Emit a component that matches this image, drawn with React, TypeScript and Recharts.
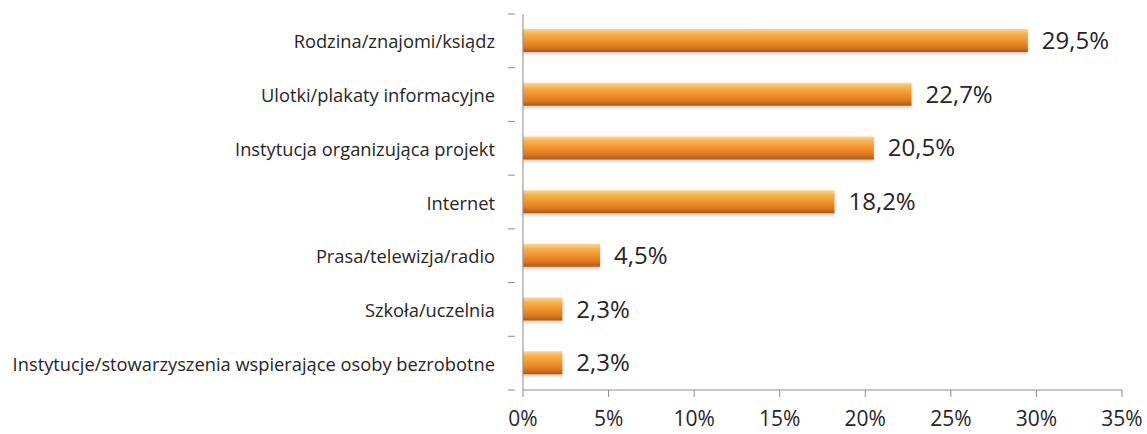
import { BarChart, Bar, XAxis, YAxis, LabelList } from "recharts";

const categories = [
  "Rodzina/znajomi/ksiądz",
  "Ulotki/plakaty informacyjne",
  "Instytucja organizująca projekt",
  "Internet",
  "Prasa/telewizja/radio",
  "Szkoła/uczelnia",
  "Instytucje/stowarzyszenia wspierające osoby bezrobotne",
];
const values = [29.5, 22.7, 20.5, 18.2, 4.5, 2.3, 2.3];
const xTicks = [0, 5, 10, 15, 20, 25, 30, 35];

const data = categories.map((name, i) => ({ name, value: values[i] }));

const WIDTH = 1147;
const HEIGHT = 434;
const TOP = 14;
const X_AXIS_H = 44;
const BAND = (HEIGHT - TOP - X_AXIS_H) / categories.length;
const FONT = "'Open Sans', sans-serif";

const fmt = (v: number) => `${v.toFixed(1).replace(".", ",")}%`;

const CategoryTick = ({ x, y, payload, index }: any) => {
  return (
    <g>
      <text
        x={x - 20}
        y={y}
        textAnchor="end"
        dominantBaseline="central"
        fontSize={18.3}
        fill="#262626"
        fontFamily={FONT}
      >
        {payload.value}
      </text>
      <line x1={x - 7} x2={x} y1={y + BAND / 2} y2={y + BAND / 2} stroke="#8c8c8c" />
      {index === 0 && (
        <line x1={x - 7} x2={x} y1={y - BAND / 2} y2={y - BAND / 2} stroke="#8c8c8c" />
      )}
    </g>
  );
};

export default function App() {
  return (
    <div style={{ position: "absolute", left: 0, top: 0, background: "#fff" }}>
      <BarChart
        width={WIDTH}
        height={HEIGHT}
        data={data}
        layout="vertical"
        margin={{ top: TOP, right: 25, left: 0, bottom: 0 }}
        barCategoryGap={0}
      >
        <defs>
          <linearGradient id="barGrad" x1="0" y1="0" x2="0" y2="1">
            <stop offset="0%" stopColor="#fcd796" />
            <stop offset="20%" stopColor="#f9b24e" />
            <stop offset="50%" stopColor="#f0952e" />
            <stop offset="80%" stopColor="#db771c" />
            <stop offset="100%" stopColor="#a95815" />
          </linearGradient>
          <filter id="shadow" x="-5%" y="-20%" width="110%" height="160%">
            <feDropShadow dx="0" dy="2" stdDeviation="1.5" floodColor="#000" floodOpacity="0.2" />
          </filter>
        </defs>
        <XAxis
          type="number"
          domain={[0, 35]}
          ticks={xTicks}
          tickFormatter={(v: number) => `${v}%`}
          height={X_AXIS_H}
          tickSize={7}
          tickMargin={14}
          interval={0}
          stroke="#8c8c8c"
          tick={{ fontSize: 21, fill: "#262626", fontFamily: FONT }}
        />
        <YAxis
          type="category"
          dataKey="name"
          width={523}
          tickLine={false}
          stroke="#8c8c8c"
          interval={0}
          tick={<CategoryTick />}
        />
        <Bar
          dataKey="value"
          barSize={23}
          fill="url(#barGrad)"
          filter="url(#shadow)"
          isAnimationActive={false}
        >
          <LabelList
            dataKey="value"
            position="right"
            offset={14}
            formatter={(v: any) => fmt(Number(v))}
            style={{ fontSize: 24, fill: "#262626", fontFamily: FONT }}
          />
        </Bar>
      </BarChart>
    </div>
  );
}
